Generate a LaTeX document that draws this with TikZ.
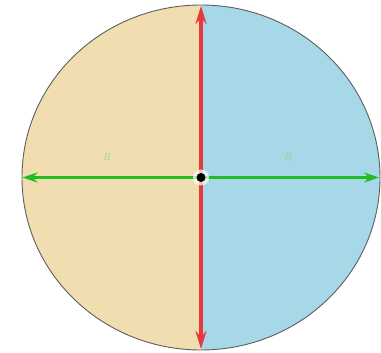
\documentclass[tikz,border=0pt]{standalone}
\usepackage{xcolor}
\usepackage{tikz}
\usetikzlibrary{positioning,arrows.meta}

\definecolor{sand}{HTML}{F0DEB0}
\definecolor{sky}{HTML}{A6D8E8}
\definecolor{rimgray}{HTML}{5E5E5E}
\definecolor{radgreen}{HTML}{22BB22}
\definecolor{diamred}{HTML}{E8383C}

\begin{document}
\begin{tikzpicture}[x=1pt,y=-1pt,
       radius/.style={
           draw=radgreen,
           line width=2.6pt,
           -{Stealth[length=15pt,width=10pt]}
       },
       diameter/.style={
           draw=diamred,
           line width=3.6pt,
           {Stealth[length=18pt,width=11pt]}-{Stealth[length=18pt,width=11pt]}
       },
       rlabel/.style={
           text=radgreen!55,
           font=\normalsize,
           inner sep=1pt
       }
   ]
   \useasboundingbox (0,0) rectangle (381,353);

   % Halves
   \fill[sand] (201,177.5) ++(90:179 and 172.5) arc (90:270:179 and 172.5) -- cycle;
   \fill[sky] (201,177.5) ++(-90:179 and 172.5) arc (-90:90:179 and 172.5) -- cycle;
   \draw[rimgray, line width=0.9pt] (201,177.5) ellipse (179 and 172.5);

   % Points
   \coordinate (centre) at (201,177.5);
   \coordinate (top) at (201,6);
   \coordinate (bottom) at (201,349);
   \coordinate (left) at (22.5,177.5);
   \coordinate (right) at (379,177.5);

   % Diameter and radii
   \draw[diameter] (top) -- (bottom);
   \draw[radius] (centre) -- (left);
   \draw[radius] (centre) -- (right);

   % Centre point
   \fill[white, opacity=0.7] (centre) circle (8);
   \fill[black] (centre) circle (4.5);

   % Labels
   \node[rlabel] (lleft) at (107,157) {$R$};
   \node[rlabel] (lright) at (288,157) {$R$};

   \end{tikzpicture}
\end{document}
